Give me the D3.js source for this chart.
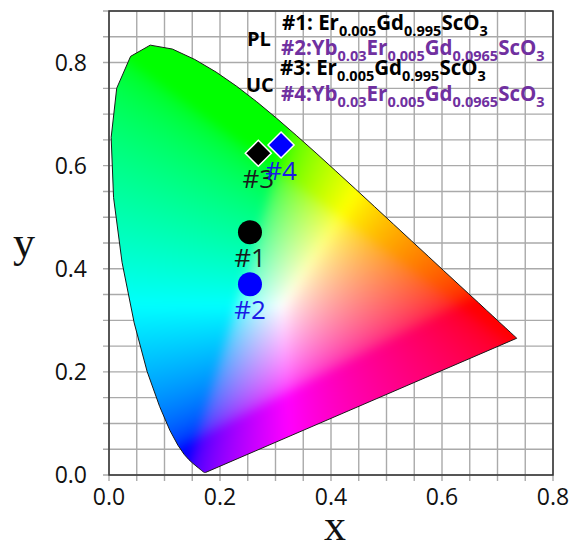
<!DOCTYPE html>
<html>
<head>
<meta charset="utf-8">
<script src="https://cdn.jsdelivr.net/npm/d3@7"></script>
<style>
  html, body { margin: 0; padding: 0; background: #fff; }
  svg { display: block; }
</style>
</head>
<body>
<svg id="chart" width="571" height="548"></svg>
<script>
// CIE 1931 2° spectral locus, 380–700 nm in 5 nm steps
const locusX = [0.1741,0.1740,0.1738,0.1736,0.1733,0.1730,0.1726,0.1721,0.1714,0.1703,0.1689,0.1669,0.1644,0.1611,0.1566,0.1510,0.1440,0.1355,0.1241,0.1096,0.0913,0.0687,0.0454,0.0235,0.0082,0.0039,0.0139,0.0389,0.0743,0.1142,0.1547,0.1929,0.2296,0.2658,0.3016,0.3373,0.3731,0.4087,0.4441,0.4788,0.5125,0.5448,0.5752,0.6029,0.6270,0.6482,0.6658,0.6801,0.6915,0.7006,0.7079,0.7140,0.7190,0.7230,0.7260,0.7283,0.7300,0.7311,0.7320,0.7327,0.7334,0.7340,0.7344,0.7346,0.7347];
const locusY = [0.0050,0.0050,0.0049,0.0049,0.0048,0.0048,0.0048,0.0048,0.0051,0.0058,0.0069,0.0086,0.0109,0.0138,0.0177,0.0227,0.0297,0.0399,0.0578,0.0868,0.1327,0.2007,0.2950,0.4127,0.5384,0.6548,0.7502,0.8120,0.8338,0.8262,0.8059,0.7816,0.7543,0.7243,0.6923,0.6589,0.6245,0.5896,0.5547,0.5202,0.4866,0.4544,0.4242,0.3965,0.3725,0.3514,0.3340,0.3197,0.3083,0.2993,0.2920,0.2859,0.2809,0.2770,0.2740,0.2717,0.2700,0.2689,0.2680,0.2673,0.2666,0.2660,0.2656,0.2654,0.2653];

// Measured colour coordinates of the samples
const sampleNames  = ["#1", "#2", "#3", "#4"];
const sampleX      = [0.254, 0.254, 0.269, 0.310];
const sampleY      = [0.471, 0.370, 0.624, 0.640];
const sampleShape  = ["circle", "circle", "diamond", "diamond"];
const sampleColor  = ["#000000", "#0000ff", "#000000", "#0000ff"];
const sampleText   = ["#1a1a1a", "#1a1ae6", "#1a1a1a", "#1a1ae6"];

// Legend rows (subscripts in braces after "_")
const legendGroups = ["PL", "UC"];
const legendRows = [
  "#1: Er_{0.005}Gd_{0.995}ScO_{3}",
  "#2:Yb_{0.03}Er_{0.005}Gd_{0.0965}ScO_{3}",
  "#3: Er_{0.005}Gd_{0.995}ScO_{3}",
  "#4:Yb_{0.03}Er_{0.005}Gd_{0.0965}ScO_{3}"
];
const legendColors = ["#000000", "#7030a0", "#000000", "#7030a0"];

const xTickLabels = [0, 0.2, 0.4, 0.6, 0.8];
const yTickLabels = [0, 0.2, 0.4, 0.6, 0.8];

const svg = d3.select("#chart");
const pLeft = 109, pRight = 553, pTop = 11, pBottom = 475;
const x = d3.scaleLinear().domain([0, 0.8]).range([pLeft, pRight]);
const y = d3.scaleLinear().domain([0, 0.9]).range([pBottom, pTop]);

// grid every 0.05, extending a little past the axes as ticks
const gridX = d3.range(0, 0.8001, 0.05);
const gridY = d3.range(0, 0.9001, 0.05);
const grid = svg.append("g").attr("stroke", "#aaaaaa").attr("stroke-width", 1.4);
grid.selectAll("line.v").data(gridX).join("line").attr("class", "v")
  .attr("x1", d => x(d)).attr("x2", d => x(d))
  .attr("y1", pTop).attr("y2", pBottom + 6);
grid.selectAll("line.h").data(gridY).join("line").attr("class", "h")
  .attr("x1", pLeft - 6).attr("x2", pRight)
  .attr("y1", d => y(d)).attr("y2", d => y(d));

// frame
svg.append("rect").attr("x", pLeft).attr("y", pTop)
  .attr("width", pRight - pLeft).attr("height", pBottom - pTop)
  .attr("fill", "none").attr("stroke", "#333").attr("stroke-width", 1.5);

// chromaticity fill rendered pixel by pixel, then softened
const W = pRight - pLeft, H = pBottom - pTop;
const raw = document.createElement("canvas");
raw.width = W; raw.height = H;
const rctx = raw.getContext("2d");
const img = rctx.createImageData(W, H);
const gamma = v => v <= 0.0031308 ? 12.92 * v : 1.055 * Math.pow(v, 1 / 2.4) - 0.055;
for (let j = 0; j < H; j++) {
  const cy = Math.max(y.invert(pTop + j + 0.5), 0.004);
  for (let i = 0; i < W; i++) {
    const cx = x.invert(pLeft + i + 0.5);
    const X = cx / cy, Y = 1, Z = (1 - cx - cy) / cy;
    let r =  3.2406 * X - 1.5372 * Y - 0.4986 * Z;
    let g = -0.9689 * X + 1.8758 * Y + 0.0415 * Z;
    let b =  0.0557 * X - 0.2040 * Y + 1.0570 * Z;
    r = Math.max(r, 0); g = Math.max(g, 0); b = Math.max(b, 0);
    const m = Math.max(r, g, b) || 1;
    const k = (j * W + i) * 4;
    img.data[k]     = Math.round(255 * gamma(r / m));
    img.data[k + 1] = Math.round(255 * gamma(g / m));
    img.data[k + 2] = Math.round(255 * gamma(b / m));
    img.data[k + 3] = 255;
  }
}
rctx.putImageData(img, 0, 0);
const soft = document.createElement("canvas");
soft.width = W; soft.height = H;
const sctx = soft.getContext("2d");
sctx.drawImage(raw, 0, 0);
sctx.filter = "blur(5px)";
sctx.drawImage(raw, 0, 0);

const locus = locusX.map((d, i) => [d, locusY[i]]);
const line = d3.line().x(d => x(d[0])).y(d => y(d[1]));
const locusPath = line(locus) + "Z";

svg.append("clipPath").attr("id", "locusClip")
  .append("path").attr("d", locusPath);
svg.append("image")
  .attr("x", pLeft).attr("y", pTop).attr("width", W).attr("height", H)
  .attr("href", soft.toDataURL())
  .attr("clip-path", "url(#locusClip)");
svg.append("path").attr("d", locusPath)
  .attr("fill", "none").attr("stroke", "#1a1a1a").attr("stroke-width", 1);

// tick labels
const fmt = d3.format(".1f");
svg.append("g").selectAll("text").data(xTickLabels).join("text")
  .attr("x", d => x(d)).attr("y", 505)
  .attr("text-anchor", "middle")
  .attr("font-family", "Open Sans, sans-serif").attr("font-size", 23)
  .attr("fill", "#111").text(fmt);
svg.append("g").selectAll("text").data(yTickLabels).join("text")
  .attr("x", 87).attr("y", d => y(d) + 8)
  .attr("text-anchor", "end")
  .attr("font-family", "Open Sans, sans-serif").attr("font-size", 23)
  .attr("fill", "#111").text(fmt);

// axis titles
svg.append("text").attr("x", 335).attr("y", 540)
  .attr("text-anchor", "middle")
  .attr("font-family", "Liberation Serif, serif").attr("font-size", 44)
  .attr("fill", "#111").text("x");
svg.append("text").attr("x", 24).attr("y", 257)
  .attr("text-anchor", "middle")
  .attr("font-family", "Liberation Serif, serif").attr("font-size", 44)
  .attr("fill", "#111").text("y");

// sample markers
const samples = sampleNames.map((n, i) => ({
  name: n, cx: sampleX[i], cy: sampleY[i], shape: sampleShape[i],
  color: sampleColor[i], text: sampleText[i]
}));
const mk = svg.append("g");
samples.forEach(s => {
  const px = x(s.cx), py = y(s.cy);
  if (s.shape === "circle") {
    mk.append("circle").attr("cx", px).attr("cy", py).attr("r", 12)
      .attr("fill", s.color);
  } else {
    const h = 13;
    mk.append("path")
      .attr("d", `M${px},${py - h}L${px + h},${py}L${px},${py + h}L${px - h},${py}Z`)
      .attr("fill", s.color).attr("stroke", "#ffffff").attr("stroke-width", 1.5);
  }
});
samples.forEach(s => {
  mk.append("text").attr("x", x(s.cx)).attr("y", y(s.cy) + 35)
    .attr("text-anchor", "middle")
    .attr("font-family", "Open Sans, sans-serif").attr("font-size", 26)
    .attr("fill", s.text).text(s.name);
});

// legend
const lg = svg.append("g")
  .attr("font-family", "Open Sans, sans-serif").attr("font-weight", "bold");
lg.append("text").attr("x", 247).attr("y", 46).attr("font-size", 20).text(legendGroups[0]);
lg.append("text").attr("x", 246).attr("y", 92).attr("font-size", 20).text(legendGroups[1]);
const rowX = [282, 281, 280, 281];
const rowY = [30, 55, 75, 101];
const subShift = 5.5;
legendRows.forEach((row, i) => {
  const t = lg.append("text").attr("x", rowX[i]).attr("y", rowY[i])
    .attr("fill", legendColors[i]).attr("font-size", 20.5);
  const parts = row.split(/(_\{[^}]*\})/).filter(p => p.length);
  let lowered = false;
  parts.forEach(p => {
    if (p.startsWith("_{")) {
      t.append("tspan").attr("font-size", 14.5).attr("dy", lowered ? 0 : subShift)
        .text(p.slice(2, -1));
      lowered = true;
    } else {
      t.append("tspan").attr("dy", lowered ? -subShift : 0).text(p);
      lowered = false;
    }
  });
});
</script>
</body>
</html>
